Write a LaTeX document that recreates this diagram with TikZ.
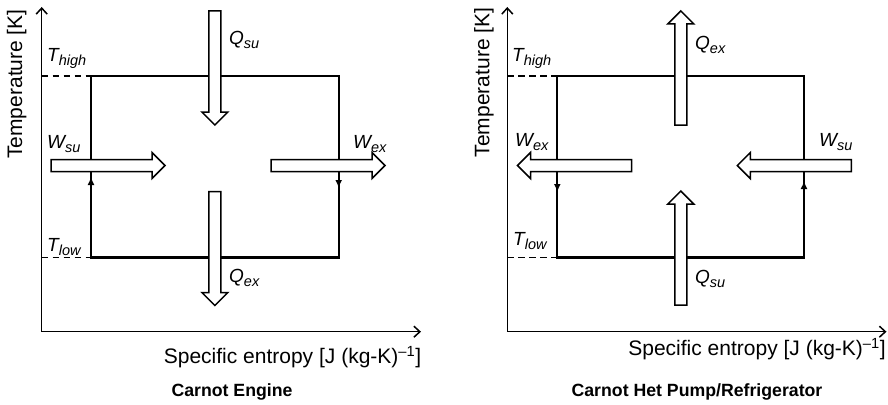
\documentclass[tikz,border=0pt]{standalone}
\usepackage{fontspec}
\setmainfont{Liberation Sans}
\usetikzlibrary{arrows.meta}
\newcommand\sbs[1]{\raisebox{-4pt}{\fontsize{14.5}{16}\selectfont #1}}
\begin{document}
\begin{tikzpicture}[x=1pt,y=-1pt,
  axis/.style={line width=1.5pt,{Straight Barb[length=6pt,width=11pt,line width=1.5pt]}-{Straight Barb[length=6pt,width=11pt,line width=1.5pt]}},
  cycleline/.style={line width=2.2pt},
  dashline/.style={line width=1.5pt,dash pattern=on 6.5pt off 4.5pt},
  blk/.style={draw,fill=white,line width=1.5pt},
  lbl/.style={anchor=base west,inner sep=0pt,font=\fontsize{19}{22}\selectfont\itshape},
  axlbl/.style={inner sep=0pt,font=\fontsize{21}{24}\selectfont},
  captxt/.style={inner sep=0pt,font=\fontsize{17.7}{20}\selectfont\bfseries},
  midarr/.style={-{Latex[length=8pt,width=7pt]},line width=1.8pt},
  barrow/.pic={\path[blk] (0,-6)--(101,-6)--(101,-13)--(114,0)--(101,13)--(101,6)--(0,6)--cycle;}
]
\useasboundingbox (0,0) rectangle (888,404);
% ---------- left panel: Carnot engine ----------
\coordinate (O1) at (41.7,331.7);
\coordinate (Y1) at (41.7,7);
\coordinate (X1) at (421,331.7);
\draw[axis] (Y1) -- (O1) -- (X1);
\coordinate (A1) at (91,76);
\coordinate (B1) at (338.7,76);
\coordinate (C1) at (338.7,257.5);
\coordinate (D1) at (91,257.5);
\draw[cycleline] (A1) -- (B1) -- (C1) -- (D1) -- cycle;
\draw[dashline] (O1 |- A1) -- (A1);
\draw[dashline] (O1 |- D1) -- (D1);
\draw[midarr] (91,188) -- (91,177);
\draw[midarr] (338.7,178) -- (338.7,188);
\pic (qsuL) [rotate=-90] at (214.9,11) {barrow};
\pic (qexL) [rotate=-90] at (214.9,191.5) {barrow};
\pic (wsuL) at (51,165.5) {barrow};
\pic (wexL) at (271,165.5) {barrow};
\node[lbl] (th1) at (47,61) {T\sbs{high}};
\node[lbl] (tl1) at (47,251) {T\sbs{low}};
\node[lbl] (qsu1) at (229,45) {Q\sbs{su}};
\node[lbl] (qex1) at (229,282) {Q\sbs{ex}};
\node[lbl] (wsu1) at (47,148) {W\sbs{su}};
\node[lbl] (wex1) at (353,148) {W\sbs{ex}};
\node[axlbl,rotate=90] (ty1) at (16.7,84) {Temperature [K]};
\node[axlbl] (sx1) at (292.5,357) {Specific entropy [J (kg-K)\textsuperscript{–1}]};
\node[captxt] (cap1) at (232,392) {Carnot Engine};
% ---------- right panel: heat pump ----------
\coordinate (O2) at (507.3,331.7);
\coordinate (Y2) at (507.3,7);
\coordinate (X2) at (886.5,331.7);
\draw[axis] (Y2) -- (O2) -- (X2);
\coordinate (A2) at (557.3,76);
\coordinate (B2) at (804,76);
\coordinate (C2) at (804,257.5);
\coordinate (D2) at (557.3,257.5);
\draw[cycleline] (A2) -- (B2) -- (C2) -- (D2) -- cycle;
\draw[dashline] (O2 |- A2) -- (A2);
\draw[dashline] (O2 |- D2) -- (D2);
\draw[midarr] (557.3,181) -- (557.3,192);
\draw[midarr] (804,192) -- (804,181);
\pic (qexR) [rotate=90] at (680.8,125) {barrow};
\pic (qsuR) [rotate=90] at (680.8,305) {barrow};
\pic (wexR) [rotate=180] at (631.5,165.5) {barrow};
\pic (wsuR) [rotate=180] at (851.3,165.5) {barrow};
\node[lbl] (th2) at (512,62) {T\sbs{high}};
\node[lbl] (tl2) at (513,245) {T\sbs{low}};
\node[lbl] (qex2) at (695,50) {Q\sbs{ex}};
\node[lbl] (qsu2) at (695,283) {Q\sbs{su}};
\node[lbl] (wex2) at (515,146) {W\sbs{ex}};
\node[lbl] (wsu2) at (819,146) {W\sbs{su}};
\node[axlbl,rotate=90] (ty2) at (484,82.5) {Temperature [K]};
\node[axlbl] (sx2) at (757,349) {Specific entropy [J (kg-K)\textsuperscript{–1}]};
\node[captxt] (cap2) at (697,392) {Carnot Het Pump/Refrigerator};
\end{tikzpicture}
\end{document}
